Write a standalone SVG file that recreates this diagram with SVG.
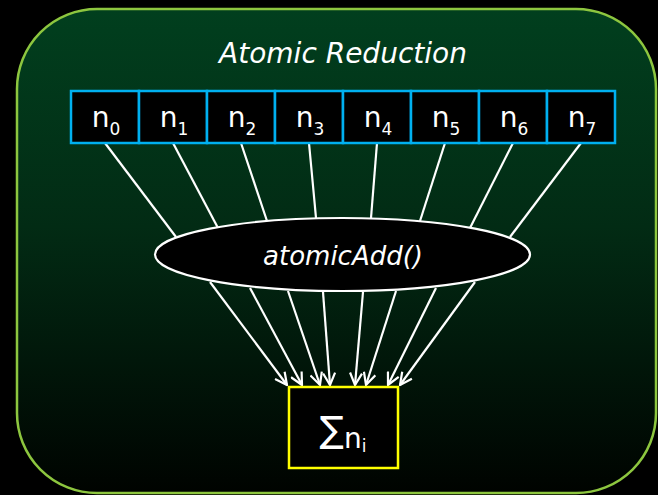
<svg xmlns="http://www.w3.org/2000/svg" width="658" height="495" viewBox="0 0 658 495">
<style>
.t{font-family:"DejaVu Sans","Open Sans",sans-serif;fill:#fff}
.cell{fill:#000;stroke:#00B0F0;stroke-width:2.5}
.ln{stroke:#fff;stroke-width:2.2;fill:none}
.arr{stroke:#fff;stroke-width:2.2;fill:none;marker-end:url(#ah)}
</style>
<defs>
<linearGradient id="bg" x1="0" y1="0" x2="0" y2="1">
<stop offset="0" stop-color="#013F1E"/>
<stop offset="0.45" stop-color="#022B14"/>
<stop offset="1" stop-color="#000300"/>
</linearGradient>
<marker id="ah" markerUnits="userSpaceOnUse" viewBox="0 0 14 14" refX="13" refY="7" markerWidth="14" markerHeight="14" orient="auto">
<path d="M1,1 L13,7 L1,13" fill="none" stroke="#fff" stroke-width="2.2"/>
</marker>
</defs>
<rect width="658" height="495" fill="#000"/>
<g id="panel">
<rect x="17" y="9" width="639" height="484" rx="80" ry="80" fill="url(#bg)" stroke="#8DC63F" stroke-width="2.5"/>
<text class="t" x="343" y="63" font-size="28" font-style="italic" text-anchor="middle">Atomic Reduction</text>
</g>
<g id="connectors">
<line class="ln" x1="105" y1="143" x2="176" y2="237"/>
<line class="ln" x1="173" y1="143" x2="218" y2="228"/>
<line class="ln" x1="241" y1="143" x2="267" y2="221"/>
<line class="ln" x1="309" y1="143" x2="316" y2="218"/>
<line class="ln" x1="377" y1="143" x2="371" y2="218"/>
<line class="ln" x1="445" y1="143" x2="420" y2="221"/>
<line class="ln" x1="513" y1="143" x2="470" y2="228"/>
<line class="ln" x1="581" y1="143" x2="510" y2="237"/>
<line class="arr" x1="210" y1="282" x2="287" y2="385"/>
<line class="arr" x1="250" y1="288" x2="302" y2="385"/>
<line class="arr" x1="288" y1="291" x2="320" y2="385"/>
<line class="arr" x1="323" y1="292" x2="330" y2="385"/>
<line class="arr" x1="363" y1="292" x2="355" y2="385"/>
<line class="arr" x1="396" y1="291" x2="366" y2="385"/>
<line class="arr" x1="436" y1="288" x2="388" y2="385"/>
<line class="arr" x1="475" y1="282" x2="400" y2="385"/>
</g>
<g id="array">
<rect class="cell" x="71" y="91" width="68" height="52"/>
<rect class="cell" x="139" y="91" width="68" height="52"/>
<rect class="cell" x="207" y="91" width="68" height="52"/>
<rect class="cell" x="275" y="91" width="68" height="52"/>
<rect class="cell" x="343" y="91" width="68" height="52"/>
<rect class="cell" x="411" y="91" width="68" height="52"/>
<rect class="cell" x="479" y="91" width="68" height="52"/>
<rect class="cell" x="547" y="91" width="68" height="52"/>
<text class="t" x="106" y="127" font-size="28" text-anchor="middle">n<tspan font-size="17" dy="8">0</tspan></text>
<text class="t" x="174" y="127" font-size="28" text-anchor="middle">n<tspan font-size="17" dy="8">1</tspan></text>
<text class="t" x="242" y="127" font-size="28" text-anchor="middle">n<tspan font-size="17" dy="8">2</tspan></text>
<text class="t" x="310" y="127" font-size="28" text-anchor="middle">n<tspan font-size="17" dy="8">3</tspan></text>
<text class="t" x="378" y="127" font-size="28" text-anchor="middle">n<tspan font-size="17" dy="8">4</tspan></text>
<text class="t" x="446" y="127" font-size="28" text-anchor="middle">n<tspan font-size="17" dy="8">5</tspan></text>
<text class="t" x="514" y="127" font-size="28" text-anchor="middle">n<tspan font-size="17" dy="8">6</tspan></text>
<text class="t" x="582" y="127" font-size="28" text-anchor="middle">n<tspan font-size="17" dy="8">7</tspan></text>
</g>
<g id="atomicAdd">
<ellipse cx="342.5" cy="254.5" rx="187.5" ry="36.5" fill="#000" stroke="#fff" stroke-width="2.2"/>
<text class="t" x="343" y="265" font-size="26" font-style="italic" text-anchor="middle">atomicAdd()</text>
</g>
<g id="sum">
<rect x="289" y="387" width="109" height="81" fill="#000" stroke="#FFFF00" stroke-width="2.5"/>
<text class="t" x="343" y="448" font-size="28" text-anchor="middle"><tspan font-size="36" dy="-6">∑</tspan><tspan dy="6">n</tspan><tspan font-size="17" dy="4">i</tspan></text>
</g>
</svg>
